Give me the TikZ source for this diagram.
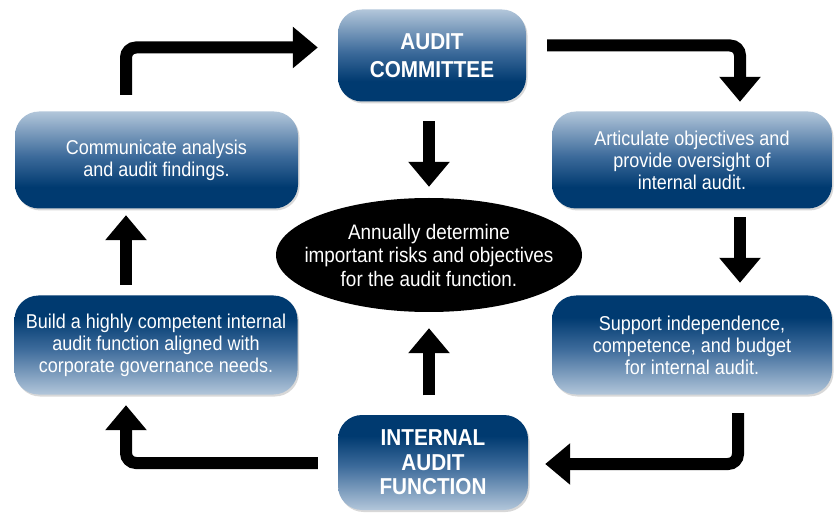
\documentclass[tikz,border=0pt]{standalone}
\usepackage{fontspec}
\setmainfont[FakeStretch=0.9]{Liberation Sans}
\usetikzlibrary{arrows.meta,shapes.geometric,shadows}

\definecolor{navy}{HTML}{003A70}
\definecolor{navymid}{HTML}{3D6B9B}
\definecolor{navylight}{HTML}{B2C6DA}

% light-to-dark panels (top row) and dark-to-light panels (bottom row)
\pgfdeclareverticalshading{fadedown}{100bp}{color(0bp)=(navy); color(36bp)=(navy); color(52bp)=(navymid); color(75bp)=(navylight); color(100bp)=(navylight)}
\pgfdeclareverticalshading{fadeup}{100bp}{color(0bp)=(navylight); color(25bp)=(navylight); color(48bp)=(navymid); color(64bp)=(navy); color(100bp)=(navy)}

\begin{document}
\begin{tikzpicture}[
  x=1pt,y=-1pt,
  font=\fontsize{20}{22}\selectfont,
  panel/.style={rounded corners=24pt,text=white,align=center,inner sep=0pt,
    drop shadow={shadow xshift=1.5pt,shadow yshift=-2pt,opacity=.3}},
  toppanel/.style={panel,shading=fadedown},
  lowpanel/.style={panel,shading=fadeup},
  wide/.style={minimum width=283pt,minimum height=97pt},
  title/.style={minimum width=188pt,minimum height=92pt,font=\bfseries\fontsize{23}{28}\selectfont},
  goal/.style={ellipse,fill=black,text=white,align=center,inner xsep=-30pt,inner ysep=-10pt,
    minimum width=306pt,minimum height=114pt,font=\fontsize{21}{23.5}\selectfont},
  flow/.style={-{Triangle[width=40pt,length=25pt]},line width=12pt,rounded corners=10pt},
]
\fill[white] (0,0) rectangle (836,513);
\useasboundingbox (0,0) rectangle (836,513);

\node[toppanel,title] (committee) at (432,55.5) {AUDIT\\COMMITTEE};
\node[toppanel,wide] (comm) at (156.5,160) {Communicate analysis\\and audit findings.};
\node[toppanel,wide,minimum width=280pt] (artic) at (692,160) {Articulate objectives and\\provide oversight of\\internal audit.};
\node[lowpanel,wide,minimum height=99pt] (build) at (156,345) {Build a highly competent internal\\audit function aligned with\\corporate governance needs.};
\node[lowpanel,wide,minimum width=280pt,minimum height=99pt] (support) at (692,345) {Support independence,\\competence, and budget\\for internal audit.};
\node[lowpanel,title,minimum width=190pt,minimum height=95pt,font=\bfseries\fontsize{23}{24.5}\selectfont] (iaf) at (433,462.5) {INTERNAL\\AUDIT\\FUNCTION};
\node[goal] (risks) at (429,255) {Annually determine\\important risks and objectives\\for the audit function.};

\draw[flow] ([xshift=-30.5pt,yshift=16.5pt]comm.north) |- ([xshift=-20pt,yshift=8pt]committee.west);
\draw[flow] ([xshift=21pt,yshift=10pt]committee.east) -| ([xshift=48pt,yshift=9.5pt]artic.north);
\draw[flow] ([xshift=48pt,yshift=-8.5pt]artic.south) -- ([xshift=48pt,yshift=12.5pt]support.north);
\draw[flow] ([xshift=46pt,yshift=-18.5pt]support.south) |- ([xshift=17pt,yshift=-1.5pt]iaf.east);
\draw[flow] ([xshift=-20pt,yshift=-0.5pt]iaf.west) -| ([xshift=-30pt,yshift=-10.5pt]build.south);
\draw[flow] ([xshift=-30pt,yshift=10.5pt]build.north) -- ([xshift=-30.5pt,yshift=-6.5pt]comm.south);
\draw[flow] ([xshift=-3pt,yshift=-19.5pt]committee.south) -- ([yshift=11pt]risks.north);
\draw[flow] ([xshift=-4pt,yshift=19.5pt]iaf.north) -- ([yshift=-16pt]risks.south);
\end{tikzpicture}
\end{document}
